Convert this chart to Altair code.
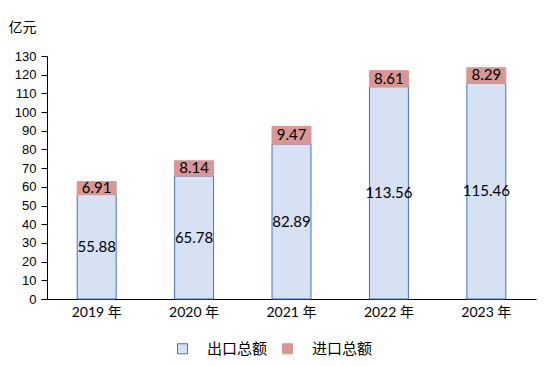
import altair as alt
import pandas as pd

years = ["2019 年", "2020 年", "2021 年", "2022 年", "2023 年"]
exports = [55.88, 65.78, 82.89, 113.56, 115.46]
imports = [6.91, 8.14, 9.47, 8.61, 8.29]
series = ["出口总额", "进口总额"]
y_ticks = list(range(0, 131, 10))

rows = []
for yr, e, i in zip(years, exports, imports):
    rows.append({"year": yr, "series": series[0], "value": e, "lo": 0.0, "hi": e, "mid": e / 2, "ord": 0})
    rows.append({"year": yr, "series": series[1], "value": i, "lo": e, "hi": e + i, "mid": e + i / 2, "ord": 1})
df = pd.DataFrame(rows)

num_font = "Lato, 'Noto Sans CJK SC'"
cjk_font = "'Noto Sans CJK SC'"

yscale = alt.Scale(domain=[0, 130], nice=False)
xscale = alt.Scale(paddingInner=0.6, paddingOuter=0.31)

xaxis = alt.Axis(labelAngle=0, ticks=False, domainColor="#000000", labelFont=num_font,
                 labelFontSize=14, labelColor="#000000", labelPadding=6)
yaxis = alt.Axis(values=y_ticks, grid=False, domainColor="#000000", tickColor="#000000",
                 tickSize=6, labelFont="Liberation Sans", labelFontSize=13, labelColor="#000000",
                 labelPadding=5, labelOverlap=False, labelFlush=False,
                 titleAngle=0, titleX=-39, titleY=-29, titleAlign="left",
                 titleBaseline="middle", titleFont=cjk_font, titleFontSize=14,
                 titleFontWeight="normal", titleColor="#000000")

bars = alt.Chart(df).mark_bar(strokeWidth=1).encode(
    x=alt.X("year:N", sort=years, title=None, scale=xscale, axis=xaxis),
    y=alt.Y("lo:Q", title="亿元", scale=yscale, axis=yaxis),
    y2="hi:Q",
    fill=alt.Fill("series:N", sort=series,
                  scale=alt.Scale(domain=series, range=["#d6e1f3", "#d99694"]),
                  legend=alt.Legend(title=None, orient="none", direction="horizontal",
                                    legendX=128, legendY=285, symbolType="square", symbolSize=100,
                                    labelOffset=17, columnPadding=12, labelFont=cjk_font,
                                    labelFontSize=15, labelColor="#000000",
                                    symbolStrokeWidth=1)),
    stroke=alt.Stroke("series:N", sort=series,
                      scale=alt.Scale(domain=series, range=["#4472c4", "#d99694"]), legend=None),
)

labels = alt.Chart(df).mark_text(font=num_font, fontSize=15, color="#000000", baseline="middle").encode(
    x=alt.X("year:N", sort=years, title=None, scale=xscale, axis=xaxis),
    y=alt.Y("mid:Q", title="亿元", scale=yscale, axis=yaxis),
    text=alt.Text("value:Q", format=".2f"),
)

chart = alt.layer(bars, labels).properties(
    width=489, height=243,
    autosize=alt.AutoSizeParams(type="none"),
    padding={"left": 39, "top": 48, "right": 3, "bottom": 59},
).configure_view(stroke=None).configure_legend(symbolStrokeColor="#4472c4")

chart.save("out.html", embed_options={"renderer": "svg", "actions": False})
